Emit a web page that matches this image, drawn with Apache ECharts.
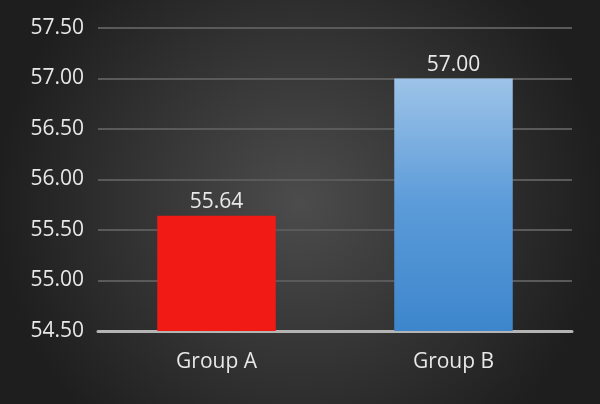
<!DOCTYPE html>
<html><head><meta charset="utf-8">
<script src="https://cdn.jsdelivr.net/npm/echarts@6/dist/echarts.min.js"></script>
<style>html,body{margin:0;padding:0;background:#2a2a2a}#c{width:600px;height:404px}</style>
</head><body><div id="c"></div>
<script>
const categories = ["Group A", "Group B"];
const values = [55.64, 57.00];
const yMin = 54.5, yMax = 57.5, yStep = 0.5;

const chart = echarts.init(document.getElementById('c'));
const font = "'Open Sans', 'Noto Sans', sans-serif";
const barColors = [
  '#f21a14',
  new echarts.graphic.LinearGradient(0, 0, 0, 1, [
    {offset: 0, color: '#9dc3e8'},
    {offset: 0.5, color: '#5b9bd9'},
    {offset: 1, color: '#3d86cc'}
  ])
];
chart.setOption({
  backgroundColor: new echarts.graphic.RadialGradient(0.5, 0.5, 0.75, [
    {offset: 0, color: '#4c4c4c'},
    {offset: 1, color: '#1e1e1e'}
  ]),
  animation: false,
  grid: {left: 98, right: 28, top: 28, bottom: 73},
  xAxis: {
    type: 'category', data: categories,
    axisLine: {lineStyle: {color: '#b4b4b4', width: 3}},
    axisTick: {show: false},
    axisLabel: {color: '#e8e8e8', fontSize: 21, fontFamily: font, margin: 21}
  },
  yAxis: {
    type: 'value', min: yMin, max: yMax, interval: yStep,
    axisLine: {show: false}, axisTick: {show: false},
    splitLine: {lineStyle: {color: '#5a5a5a', width: 2}},
    axisLabel: {color: '#e8e8e8', fontSize: 21, fontFamily: font, margin: 14,
      formatter: v => v.toFixed(2)}
  },
  series: [{
    type: 'bar', barWidth: '50%',
    data: values.map((v, i) => ({value: v, itemStyle: {color: barColors[i]}})),
    label: {show: true, position: 'top', distance: 3, color: '#e8e8e8', fontSize: 21,
      fontFamily: font, formatter: p => p.value.toFixed(2)}
  }]
});
</script></body></html>
